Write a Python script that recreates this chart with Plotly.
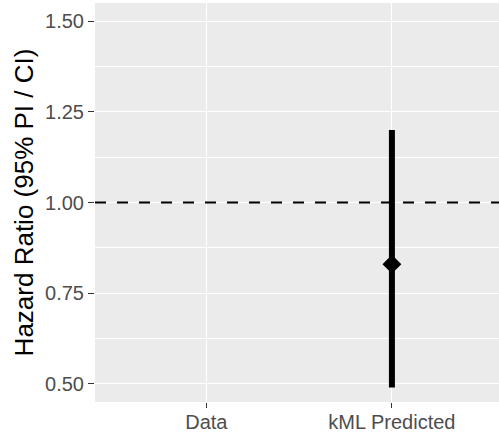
import plotly.graph_objects as go

categories = ["Data", "kML Predicted"]
estimate = [None, 0.83]
lower = [None, 0.49]
upper = [None, 1.20]
y_ticks = [0.50, 0.75, 1.00, 1.25, 1.50]
y_tick_labels = ["0.50", "0.75", "1.00", "1.25", "1.50"]
reference_line = 1.0
y_title = "Hazard Ratio (95% PI / CI)"

x_pos = [i + 1 for i in range(len(categories))]
x_range = [0.4, 2.577]
y_range = [0.45, 1.55]

err_plus = [None if e is None else u - e for e, u in zip(estimate, upper)]
err_minus = [None if e is None else e - l for e, l in zip(estimate, lower)]

fig = go.Figure()
# dashed reference line across the whole panel
fig.add_trace(go.Scatter(
    x=x_range, y=[reference_line] * 2, mode="lines",
    line=dict(color="black", width=2, dash="11px,11px"),
    showlegend=False, hoverinfo="skip",
))
fig.add_trace(go.Scatter(
    x=x_pos, y=estimate, mode="markers",
    marker=dict(symbol="diamond", size=14.5, color="black"),
    error_y=dict(type="data", symmetric=False, array=err_plus, arrayminus=err_minus,
                 thickness=6, width=0, color="black"),
    showlegend=False, cliponaxis=False,
))

fig.update_layout(
    width=499, height=434,
    margin=dict(l=95, r=0, t=3, b=32),
    paper_bgcolor="white", plot_bgcolor="#EBEBEB",
    font=dict(family="Liberation Sans, Arial, sans-serif", color="#4D4D4D"),
    showlegend=False,
)
fig.update_xaxes(
    range=x_range, tickvals=x_pos, ticktext=categories,
    showgrid=True, gridcolor="white", gridwidth=1.4,
    zeroline=False, showline=False, automargin=False,
    ticks="outside", ticklen=5, tickwidth=1.4, tickcolor="#333333",
    ticklabelstandoff=-3,
    tickfont=dict(size=20, color="#4D4D4D"),
)
fig.update_yaxes(
    range=y_range, tickvals=y_ticks, ticktext=y_tick_labels,
    showgrid=True, gridcolor="white", gridwidth=1.4,
    minor=dict(dtick=0.125, tick0=0.5, showgrid=True, gridcolor="white", gridwidth=0.7, ticks=""),
    zeroline=False, showline=False, automargin=False,
    ticks="outside", ticklen=6, tickwidth=1.4, tickcolor="#333333",
    tickfont=dict(size=20, color="#4D4D4D"),
    title=dict(text=y_title, font=dict(size=26, color="black"), standoff=3),
)

fig.write_html("out.html", config={"displayModeBar": False},
               post_script="document.body.style.margin='0';document.body.style.overflow='hidden';")
